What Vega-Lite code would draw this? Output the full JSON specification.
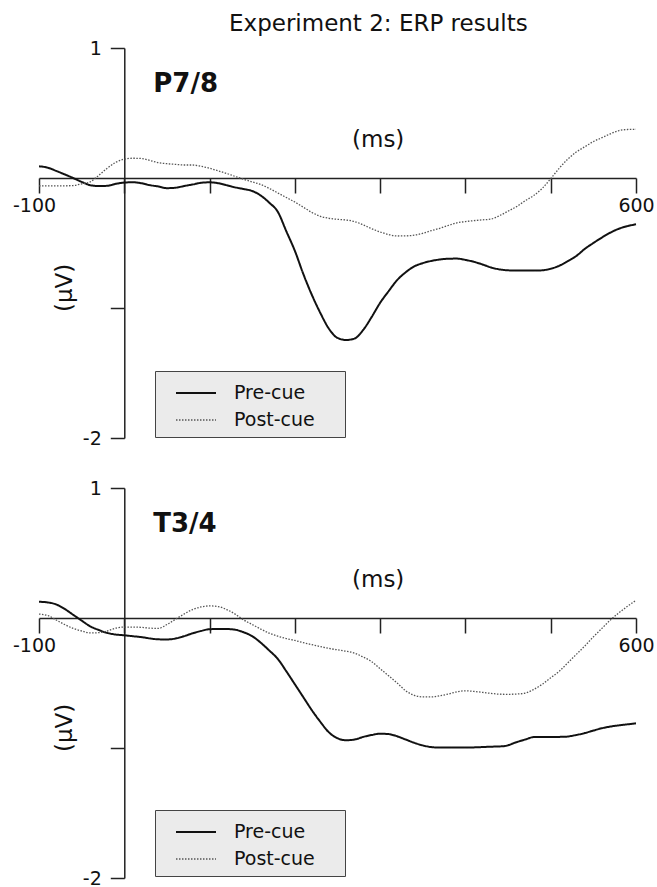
{
  "$schema": "https://vega.github.io/schema/vega-lite/v6.json",
  "padding": {"left": 12, "top": 12, "right": 0, "bottom": 0},
  "background": "white",
  "title": {"text": "Experiment 2: ERP results", "anchor": "start", "frame": "group", "dx": 190, "offset": -14.7, "baseline": "alphabetic", "font": "DejaVu Sans", "fontSize": 23, "fontWeight": "normal", "color": "#111"},
  "datasets": {
    "erp": [
      {"panel":"P7/8","cond":"Pre-cue","ms":-100,"uv":0.09},{"panel":"P7/8","cond":"Pre-cue","ms":-90,"uv":0.08},{"panel":"P7/8","cond":"Pre-cue","ms":-80,"uv":0.055},{"panel":"P7/8","cond":"Pre-cue","ms":-70,"uv":0.028},{"panel":"P7/8","cond":"Pre-cue","ms":-60,"uv":0.0},{"panel":"P7/8","cond":"Pre-cue","ms":-50,"uv":-0.03},{"panel":"P7/8","cond":"Pre-cue","ms":-40,"uv":-0.055},{"panel":"P7/8","cond":"Pre-cue","ms":-30,"uv":-0.062},{"panel":"P7/8","cond":"Pre-cue","ms":-20,"uv":-0.06},{"panel":"P7/8","cond":"Pre-cue","ms":-10,"uv":-0.045},
      {"panel":"P7/8","cond":"Pre-cue","ms":0,"uv":-0.035},{"panel":"P7/8","cond":"Pre-cue","ms":10,"uv":-0.033},{"panel":"P7/8","cond":"Pre-cue","ms":20,"uv":-0.04},{"panel":"P7/8","cond":"Pre-cue","ms":30,"uv":-0.055},{"panel":"P7/8","cond":"Pre-cue","ms":40,"uv":-0.065},{"panel":"P7/8","cond":"Pre-cue","ms":50,"uv":-0.078},{"panel":"P7/8","cond":"Pre-cue","ms":60,"uv":-0.075},{"panel":"P7/8","cond":"Pre-cue","ms":70,"uv":-0.062},{"panel":"P7/8","cond":"Pre-cue","ms":80,"uv":-0.05},{"panel":"P7/8","cond":"Pre-cue","ms":90,"uv":-0.037},
      {"panel":"P7/8","cond":"Pre-cue","ms":100,"uv":-0.033},{"panel":"P7/8","cond":"Pre-cue","ms":110,"uv":-0.04},{"panel":"P7/8","cond":"Pre-cue","ms":120,"uv":-0.055},{"panel":"P7/8","cond":"Pre-cue","ms":130,"uv":-0.072},{"panel":"P7/8","cond":"Pre-cue","ms":140,"uv":-0.085},{"panel":"P7/8","cond":"Pre-cue","ms":150,"uv":-0.1},{"panel":"P7/8","cond":"Pre-cue","ms":160,"uv":-0.135},{"panel":"P7/8","cond":"Pre-cue","ms":170,"uv":-0.19},{"panel":"P7/8","cond":"Pre-cue","ms":180,"uv":-0.26},{"panel":"P7/8","cond":"Pre-cue","ms":190,"uv":-0.41},
      {"panel":"P7/8","cond":"Pre-cue","ms":200,"uv":-0.56},{"panel":"P7/8","cond":"Pre-cue","ms":210,"uv":-0.74},{"panel":"P7/8","cond":"Pre-cue","ms":220,"uv":-0.9},{"panel":"P7/8","cond":"Pre-cue","ms":230,"uv":-1.04},{"panel":"P7/8","cond":"Pre-cue","ms":240,"uv":-1.16},{"panel":"P7/8","cond":"Pre-cue","ms":250,"uv":-1.23},{"panel":"P7/8","cond":"Pre-cue","ms":260,"uv":-1.246},{"panel":"P7/8","cond":"Pre-cue","ms":270,"uv":-1.235},{"panel":"P7/8","cond":"Pre-cue","ms":280,"uv":-1.17},{"panel":"P7/8","cond":"Pre-cue","ms":290,"uv":-1.07},
      {"panel":"P7/8","cond":"Pre-cue","ms":300,"uv":-0.96},{"panel":"P7/8","cond":"Pre-cue","ms":310,"uv":-0.87},{"panel":"P7/8","cond":"Pre-cue","ms":320,"uv":-0.785},{"panel":"P7/8","cond":"Pre-cue","ms":330,"uv":-0.725},{"panel":"P7/8","cond":"Pre-cue","ms":340,"uv":-0.68},{"panel":"P7/8","cond":"Pre-cue","ms":350,"uv":-0.655},{"panel":"P7/8","cond":"Pre-cue","ms":360,"uv":-0.638},{"panel":"P7/8","cond":"Pre-cue","ms":370,"uv":-0.627},{"panel":"P7/8","cond":"Pre-cue","ms":380,"uv":-0.621},{"panel":"P7/8","cond":"Pre-cue","ms":390,"uv":-0.62},
      {"panel":"P7/8","cond":"Pre-cue","ms":400,"uv":-0.63},{"panel":"P7/8","cond":"Pre-cue","ms":410,"uv":-0.645},{"panel":"P7/8","cond":"Pre-cue","ms":420,"uv":-0.665},{"panel":"P7/8","cond":"Pre-cue","ms":430,"uv":-0.688},{"panel":"P7/8","cond":"Pre-cue","ms":440,"uv":-0.703},{"panel":"P7/8","cond":"Pre-cue","ms":450,"uv":-0.71},{"panel":"P7/8","cond":"Pre-cue","ms":460,"uv":-0.712},{"panel":"P7/8","cond":"Pre-cue","ms":470,"uv":-0.712},{"panel":"P7/8","cond":"Pre-cue","ms":480,"uv":-0.712},{"panel":"P7/8","cond":"Pre-cue","ms":490,"uv":-0.71},
      {"panel":"P7/8","cond":"Pre-cue","ms":500,"uv":-0.698},{"panel":"P7/8","cond":"Pre-cue","ms":510,"uv":-0.675},{"panel":"P7/8","cond":"Pre-cue","ms":520,"uv":-0.64},{"panel":"P7/8","cond":"Pre-cue","ms":530,"uv":-0.6},{"panel":"P7/8","cond":"Pre-cue","ms":540,"uv":-0.545},{"panel":"P7/8","cond":"Pre-cue","ms":550,"uv":-0.5},{"panel":"P7/8","cond":"Pre-cue","ms":560,"uv":-0.458},{"panel":"P7/8","cond":"Pre-cue","ms":570,"uv":-0.42},{"panel":"P7/8","cond":"Pre-cue","ms":580,"uv":-0.39},{"panel":"P7/8","cond":"Pre-cue","ms":590,"uv":-0.37},{"panel":"P7/8","cond":"Pre-cue","ms":600,"uv":-0.356},

      {"panel":"P7/8","cond":"Post-cue","ms":-100,"uv":-0.06},{"panel":"P7/8","cond":"Post-cue","ms":-90,"uv":-0.06},{"panel":"P7/8","cond":"Post-cue","ms":-80,"uv":-0.06},{"panel":"P7/8","cond":"Post-cue","ms":-70,"uv":-0.06},{"panel":"P7/8","cond":"Post-cue","ms":-60,"uv":-0.058},{"panel":"P7/8","cond":"Post-cue","ms":-50,"uv":-0.045},{"panel":"P7/8","cond":"Post-cue","ms":-40,"uv":-0.03},{"panel":"P7/8","cond":"Post-cue","ms":-30,"uv":0.02},{"panel":"P7/8","cond":"Post-cue","ms":-20,"uv":0.075},{"panel":"P7/8","cond":"Post-cue","ms":-10,"uv":0.12},
      {"panel":"P7/8","cond":"Post-cue","ms":0,"uv":0.145},{"panel":"P7/8","cond":"Post-cue","ms":10,"uv":0.152},{"panel":"P7/8","cond":"Post-cue","ms":20,"uv":0.15},{"panel":"P7/8","cond":"Post-cue","ms":30,"uv":0.135},{"panel":"P7/8","cond":"Post-cue","ms":40,"uv":0.118},{"panel":"P7/8","cond":"Post-cue","ms":50,"uv":0.11},{"panel":"P7/8","cond":"Post-cue","ms":60,"uv":0.105},{"panel":"P7/8","cond":"Post-cue","ms":70,"uv":0.1},{"panel":"P7/8","cond":"Post-cue","ms":80,"uv":0.1},{"panel":"P7/8","cond":"Post-cue","ms":90,"uv":0.09},
      {"panel":"P7/8","cond":"Post-cue","ms":100,"uv":0.075},{"panel":"P7/8","cond":"Post-cue","ms":110,"uv":0.055},{"panel":"P7/8","cond":"Post-cue","ms":120,"uv":0.035},{"panel":"P7/8","cond":"Post-cue","ms":130,"uv":0.012},{"panel":"P7/8","cond":"Post-cue","ms":140,"uv":-0.01},{"panel":"P7/8","cond":"Post-cue","ms":150,"uv":-0.03},{"panel":"P7/8","cond":"Post-cue","ms":160,"uv":-0.05},{"panel":"P7/8","cond":"Post-cue","ms":170,"uv":-0.08},{"panel":"P7/8","cond":"Post-cue","ms":180,"uv":-0.115},{"panel":"P7/8","cond":"Post-cue","ms":190,"uv":-0.15},
      {"panel":"P7/8","cond":"Post-cue","ms":200,"uv":-0.185},{"panel":"P7/8","cond":"Post-cue","ms":210,"uv":-0.225},{"panel":"P7/8","cond":"Post-cue","ms":220,"uv":-0.265},{"panel":"P7/8","cond":"Post-cue","ms":230,"uv":-0.295},{"panel":"P7/8","cond":"Post-cue","ms":240,"uv":-0.31},{"panel":"P7/8","cond":"Post-cue","ms":250,"uv":-0.318},{"panel":"P7/8","cond":"Post-cue","ms":260,"uv":-0.323},{"panel":"P7/8","cond":"Post-cue","ms":270,"uv":-0.335},{"panel":"P7/8","cond":"Post-cue","ms":280,"uv":-0.36},{"panel":"P7/8","cond":"Post-cue","ms":290,"uv":-0.39},
      {"panel":"P7/8","cond":"Post-cue","ms":300,"uv":-0.415},{"panel":"P7/8","cond":"Post-cue","ms":310,"uv":-0.435},{"panel":"P7/8","cond":"Post-cue","ms":320,"uv":-0.446},{"panel":"P7/8","cond":"Post-cue","ms":330,"uv":-0.445},{"panel":"P7/8","cond":"Post-cue","ms":340,"uv":-0.44},{"panel":"P7/8","cond":"Post-cue","ms":350,"uv":-0.425},{"panel":"P7/8","cond":"Post-cue","ms":360,"uv":-0.405},{"panel":"P7/8","cond":"Post-cue","ms":370,"uv":-0.387},{"panel":"P7/8","cond":"Post-cue","ms":380,"uv":-0.365},{"panel":"P7/8","cond":"Post-cue","ms":390,"uv":-0.345},
      {"panel":"P7/8","cond":"Post-cue","ms":400,"uv":-0.335},{"panel":"P7/8","cond":"Post-cue","ms":410,"uv":-0.328},{"panel":"P7/8","cond":"Post-cue","ms":420,"uv":-0.322},{"panel":"P7/8","cond":"Post-cue","ms":430,"uv":-0.316},{"panel":"P7/8","cond":"Post-cue","ms":440,"uv":-0.29},{"panel":"P7/8","cond":"Post-cue","ms":450,"uv":-0.255},{"panel":"P7/8","cond":"Post-cue","ms":460,"uv":-0.22},{"panel":"P7/8","cond":"Post-cue","ms":470,"uv":-0.175},{"panel":"P7/8","cond":"Post-cue","ms":480,"uv":-0.135},{"panel":"P7/8","cond":"Post-cue","ms":490,"uv":-0.08},
      {"panel":"P7/8","cond":"Post-cue","ms":500,"uv":-0.005},{"panel":"P7/8","cond":"Post-cue","ms":510,"uv":0.075},{"panel":"P7/8","cond":"Post-cue","ms":520,"uv":0.145},{"panel":"P7/8","cond":"Post-cue","ms":530,"uv":0.2},{"panel":"P7/8","cond":"Post-cue","ms":540,"uv":0.24},{"panel":"P7/8","cond":"Post-cue","ms":550,"uv":0.28},{"panel":"P7/8","cond":"Post-cue","ms":560,"uv":0.31},{"panel":"P7/8","cond":"Post-cue","ms":570,"uv":0.34},{"panel":"P7/8","cond":"Post-cue","ms":580,"uv":0.365},{"panel":"P7/8","cond":"Post-cue","ms":590,"uv":0.373},{"panel":"P7/8","cond":"Post-cue","ms":600,"uv":0.375},

      {"panel":"T3/4","cond":"Pre-cue","ms":-100,"uv":0.125},{"panel":"T3/4","cond":"Pre-cue","ms":-90,"uv":0.12},{"panel":"T3/4","cond":"Pre-cue","ms":-80,"uv":0.105},{"panel":"T3/4","cond":"Pre-cue","ms":-70,"uv":0.07},{"panel":"T3/4","cond":"Pre-cue","ms":-60,"uv":0.025},{"panel":"T3/4","cond":"Pre-cue","ms":-50,"uv":-0.02},{"panel":"T3/4","cond":"Pre-cue","ms":-40,"uv":-0.064},{"panel":"T3/4","cond":"Pre-cue","ms":-30,"uv":-0.092},{"panel":"T3/4","cond":"Pre-cue","ms":-20,"uv":-0.115},{"panel":"T3/4","cond":"Pre-cue","ms":-10,"uv":-0.127},
      {"panel":"T3/4","cond":"Pre-cue","ms":0,"uv":-0.133},{"panel":"T3/4","cond":"Pre-cue","ms":10,"uv":-0.14},{"panel":"T3/4","cond":"Pre-cue","ms":20,"uv":-0.147},{"panel":"T3/4","cond":"Pre-cue","ms":30,"uv":-0.157},{"panel":"T3/4","cond":"Pre-cue","ms":40,"uv":-0.164},{"panel":"T3/4","cond":"Pre-cue","ms":50,"uv":-0.165},{"panel":"T3/4","cond":"Pre-cue","ms":60,"uv":-0.158},{"panel":"T3/4","cond":"Pre-cue","ms":70,"uv":-0.14},{"panel":"T3/4","cond":"Pre-cue","ms":80,"uv":-0.118},{"panel":"T3/4","cond":"Pre-cue","ms":90,"uv":-0.1},
      {"panel":"T3/4","cond":"Pre-cue","ms":100,"uv":-0.086},{"panel":"T3/4","cond":"Pre-cue","ms":110,"uv":-0.085},{"panel":"T3/4","cond":"Pre-cue","ms":120,"uv":-0.085},{"panel":"T3/4","cond":"Pre-cue","ms":130,"uv":-0.09},{"panel":"T3/4","cond":"Pre-cue","ms":140,"uv":-0.11},{"panel":"T3/4","cond":"Pre-cue","ms":150,"uv":-0.14},{"panel":"T3/4","cond":"Pre-cue","ms":160,"uv":-0.19},{"panel":"T3/4","cond":"Pre-cue","ms":170,"uv":-0.25},{"panel":"T3/4","cond":"Pre-cue","ms":180,"uv":-0.315},{"panel":"T3/4","cond":"Pre-cue","ms":190,"uv":-0.41},
      {"panel":"T3/4","cond":"Pre-cue","ms":200,"uv":-0.51},{"panel":"T3/4","cond":"Pre-cue","ms":210,"uv":-0.61},{"panel":"T3/4","cond":"Pre-cue","ms":220,"uv":-0.71},{"panel":"T3/4","cond":"Pre-cue","ms":230,"uv":-0.8},{"panel":"T3/4","cond":"Pre-cue","ms":240,"uv":-0.88},{"panel":"T3/4","cond":"Pre-cue","ms":250,"uv":-0.925},{"panel":"T3/4","cond":"Pre-cue","ms":260,"uv":-0.94},{"panel":"T3/4","cond":"Pre-cue","ms":270,"uv":-0.935},{"panel":"T3/4","cond":"Pre-cue","ms":280,"uv":-0.915},{"panel":"T3/4","cond":"Pre-cue","ms":290,"uv":-0.9},
      {"panel":"T3/4","cond":"Pre-cue","ms":300,"uv":-0.89},{"panel":"T3/4","cond":"Pre-cue","ms":310,"uv":-0.893},{"panel":"T3/4","cond":"Pre-cue","ms":320,"uv":-0.91},{"panel":"T3/4","cond":"Pre-cue","ms":330,"uv":-0.935},{"panel":"T3/4","cond":"Pre-cue","ms":340,"uv":-0.96},{"panel":"T3/4","cond":"Pre-cue","ms":350,"uv":-0.98},{"panel":"T3/4","cond":"Pre-cue","ms":360,"uv":-0.993},{"panel":"T3/4","cond":"Pre-cue","ms":370,"uv":-0.997},{"panel":"T3/4","cond":"Pre-cue","ms":385,"uv":-0.997},{"panel":"T3/4","cond":"Pre-cue","ms":400,"uv":-0.997},
      {"panel":"T3/4","cond":"Pre-cue","ms":415,"uv":-0.994},{"panel":"T3/4","cond":"Pre-cue","ms":430,"uv":-0.99},{"panel":"T3/4","cond":"Pre-cue","ms":445,"uv":-0.986},{"panel":"T3/4","cond":"Pre-cue","ms":460,"uv":-0.955},{"panel":"T3/4","cond":"Pre-cue","ms":470,"uv":-0.935},{"panel":"T3/4","cond":"Pre-cue","ms":480,"uv":-0.916},{"panel":"T3/4","cond":"Pre-cue","ms":500,"uv":-0.915},{"panel":"T3/4","cond":"Pre-cue","ms":515,"uv":-0.914},{"panel":"T3/4","cond":"Pre-cue","ms":530,"uv":-0.9},{"panel":"T3/4","cond":"Pre-cue","ms":540,"uv":-0.885},
      {"panel":"T3/4","cond":"Pre-cue","ms":550,"uv":-0.866},{"panel":"T3/4","cond":"Pre-cue","ms":560,"uv":-0.848},{"panel":"T3/4","cond":"Pre-cue","ms":570,"uv":-0.835},{"panel":"T3/4","cond":"Pre-cue","ms":580,"uv":-0.826},{"panel":"T3/4","cond":"Pre-cue","ms":590,"uv":-0.818},{"panel":"T3/4","cond":"Pre-cue","ms":600,"uv":-0.81},

      {"panel":"T3/4","cond":"Post-cue","ms":-100,"uv":0.03},{"panel":"T3/4","cond":"Post-cue","ms":-90,"uv":0.02},{"panel":"T3/4","cond":"Post-cue","ms":-80,"uv":-0.015},{"panel":"T3/4","cond":"Post-cue","ms":-70,"uv":-0.05},{"panel":"T3/4","cond":"Post-cue","ms":-60,"uv":-0.08},{"panel":"T3/4","cond":"Post-cue","ms":-50,"uv":-0.1},{"panel":"T3/4","cond":"Post-cue","ms":-40,"uv":-0.115},{"panel":"T3/4","cond":"Post-cue","ms":-30,"uv":-0.113},{"panel":"T3/4","cond":"Post-cue","ms":-20,"uv":-0.1},{"panel":"T3/4","cond":"Post-cue","ms":-10,"uv":-0.078},
      {"panel":"T3/4","cond":"Post-cue","ms":0,"uv":-0.07},{"panel":"T3/4","cond":"Post-cue","ms":10,"uv":-0.07},{"panel":"T3/4","cond":"Post-cue","ms":20,"uv":-0.072},{"panel":"T3/4","cond":"Post-cue","ms":30,"uv":-0.078},{"panel":"T3/4","cond":"Post-cue","ms":40,"uv":-0.08},{"panel":"T3/4","cond":"Post-cue","ms":50,"uv":-0.05},{"panel":"T3/4","cond":"Post-cue","ms":60,"uv":-0.01},{"panel":"T3/4","cond":"Post-cue","ms":70,"uv":0.03},{"panel":"T3/4","cond":"Post-cue","ms":80,"uv":0.065},{"panel":"T3/4","cond":"Post-cue","ms":90,"uv":0.085},
      {"panel":"T3/4","cond":"Post-cue","ms":100,"uv":0.093},{"panel":"T3/4","cond":"Post-cue","ms":110,"uv":0.088},{"panel":"T3/4","cond":"Post-cue","ms":120,"uv":0.065},{"panel":"T3/4","cond":"Post-cue","ms":130,"uv":0.03},{"panel":"T3/4","cond":"Post-cue","ms":140,"uv":-0.015},{"panel":"T3/4","cond":"Post-cue","ms":150,"uv":-0.05},{"panel":"T3/4","cond":"Post-cue","ms":160,"uv":-0.085},{"panel":"T3/4","cond":"Post-cue","ms":170,"uv":-0.117},{"panel":"T3/4","cond":"Post-cue","ms":180,"uv":-0.14},{"panel":"T3/4","cond":"Post-cue","ms":190,"uv":-0.158},
      {"panel":"T3/4","cond":"Post-cue","ms":200,"uv":-0.173},{"panel":"T3/4","cond":"Post-cue","ms":210,"uv":-0.19},{"panel":"T3/4","cond":"Post-cue","ms":220,"uv":-0.205},{"panel":"T3/4","cond":"Post-cue","ms":230,"uv":-0.22},{"panel":"T3/4","cond":"Post-cue","ms":240,"uv":-0.234},{"panel":"T3/4","cond":"Post-cue","ms":250,"uv":-0.245},{"panel":"T3/4","cond":"Post-cue","ms":260,"uv":-0.255},{"panel":"T3/4","cond":"Post-cue","ms":270,"uv":-0.27},{"panel":"T3/4","cond":"Post-cue","ms":280,"uv":-0.3},{"panel":"T3/4","cond":"Post-cue","ms":290,"uv":-0.335},
      {"panel":"T3/4","cond":"Post-cue","ms":300,"uv":-0.39},{"panel":"T3/4","cond":"Post-cue","ms":310,"uv":-0.445},{"panel":"T3/4","cond":"Post-cue","ms":320,"uv":-0.5},{"panel":"T3/4","cond":"Post-cue","ms":330,"uv":-0.56},{"panel":"T3/4","cond":"Post-cue","ms":340,"uv":-0.595},{"panel":"T3/4","cond":"Post-cue","ms":350,"uv":-0.607},{"panel":"T3/4","cond":"Post-cue","ms":360,"uv":-0.607},{"panel":"T3/4","cond":"Post-cue","ms":370,"uv":-0.598},{"panel":"T3/4","cond":"Post-cue","ms":380,"uv":-0.585},{"panel":"T3/4","cond":"Post-cue","ms":390,"uv":-0.568},
      {"panel":"T3/4","cond":"Post-cue","ms":400,"uv":-0.56},{"panel":"T3/4","cond":"Post-cue","ms":410,"uv":-0.565},{"panel":"T3/4","cond":"Post-cue","ms":420,"uv":-0.572},{"panel":"T3/4","cond":"Post-cue","ms":430,"uv":-0.58},{"panel":"T3/4","cond":"Post-cue","ms":440,"uv":-0.586},{"panel":"T3/4","cond":"Post-cue","ms":450,"uv":-0.587},{"panel":"T3/4","cond":"Post-cue","ms":460,"uv":-0.585},{"panel":"T3/4","cond":"Post-cue","ms":470,"uv":-0.578},{"panel":"T3/4","cond":"Post-cue","ms":480,"uv":-0.55},{"panel":"T3/4","cond":"Post-cue","ms":490,"uv":-0.51},
      {"panel":"T3/4","cond":"Post-cue","ms":500,"uv":-0.46},{"panel":"T3/4","cond":"Post-cue","ms":510,"uv":-0.41},{"panel":"T3/4","cond":"Post-cue","ms":520,"uv":-0.345},{"panel":"T3/4","cond":"Post-cue","ms":530,"uv":-0.28},{"panel":"T3/4","cond":"Post-cue","ms":540,"uv":-0.215},{"panel":"T3/4","cond":"Post-cue","ms":550,"uv":-0.145},{"panel":"T3/4","cond":"Post-cue","ms":560,"uv":-0.08},{"panel":"T3/4","cond":"Post-cue","ms":570,"uv":-0.015},{"panel":"T3/4","cond":"Post-cue","ms":580,"uv":0.04},{"panel":"T3/4","cond":"Post-cue","ms":590,"uv":0.09},{"panel":"T3/4","cond":"Post-cue","ms":600,"uv":0.136}
    ]
  },
  "spacing": 50,
  "bounds": "flush",
  "resolve": {
    "scale": {"strokeDash": "independent", "color": "independent", "strokeWidth": "independent"},
    "legend": {"strokeDash": "independent", "color": "independent", "strokeWidth": "independent"}
  },
  "vconcat": [
    {
      "width": 597,
      "height": 390,
      "layer": [
        {
          "data": {"name": "erp"},
          "transform": [{"filter": "datum.panel == 'P7/8'"}],
          "mark": {"type": "line", "interpolate": "monotone"},
          "encoding": {
            "x": {"field": "ms", "type": "quantitative", "scale": {"domain": [-100, 600], "nice": false, "zero": false},
                  "axis": {"title": null, "offset": -260, "values": [-100, 0, 100, 200, 300, 400, 500, 600], "labelExpr": "datum.value == -100 ? '-100' : (datum.value == 600 ? '600' : '')", "labelOffset": {"condition": {"test": "datum.value == -100", "value": -5}, "value": 0}, "tickSize": 15, "labelPadding": 3, "labelFlush": false, "labelOverlap": false, "grid": false}},
            "y": {"field": "uv", "type": "quantitative", "scale": {"domain": [-2, 1], "nice": false, "zero": false},
                  "axis": {"title": null, "offset": -85.29, "values": [1, -1, -2], "labelExpr": "datum.value == 1 ? '1' : (datum.value == -2 ? '-2' : '')", "tickSize": 14, "labelPadding": 9, "labelFlush": false, "labelOverlap": false, "grid": false}},
            "color": {"field": "cond", "type": "nominal", "scale": {"domain": ["Pre-cue", "Post-cue"], "range": ["#111111", "#555555"]},
                      "legend": {"title": null, "orient": "none", "legendX": 116, "legendY": 323, "fillColor": "#ebebeb", "strokeColor": "#444444", "padding": 7, "symbolType": "M-1.43,0H1.43M9.8,0", "symbolSize": 784, "symbolOffset": 19, "labelOffset": 23, "rowPadding": 2, "labelFont": "DejaVu Sans", "labelFontSize": 19, "labelColor": "#111111"}},
            "strokeDash": {"field": "cond", "type": "nominal", "scale": {"domain": ["Pre-cue", "Post-cue"], "range": [[1, 0], [1.5, 1.5]]},
                      "legend": {"title": null, "orient": "none", "legendX": 116, "legendY": 323, "fillColor": "#ebebeb", "strokeColor": "#444444", "padding": 7, "symbolType": "M-1.43,0H1.43M9.8,0", "symbolSize": 784, "symbolOffset": 19, "labelOffset": 23, "rowPadding": 2, "labelFont": "DejaVu Sans", "labelFontSize": 19, "labelColor": "#111111"}},
            "strokeWidth": {"field": "cond", "type": "nominal", "scale": {"domain": ["Pre-cue", "Post-cue"], "range": [2, 1.3]},
                      "legend": {"title": null, "orient": "none", "legendX": 116, "legendY": 323, "fillColor": "#ebebeb", "strokeColor": "#444444", "padding": 7, "symbolType": "M-1.43,0H1.43M9.8,0", "symbolSize": 784, "symbolOffset": 19, "labelOffset": 23, "rowPadding": 2, "labelFont": "DejaVu Sans", "labelFontSize": 19, "labelColor": "#111111"}}
          }
        },
        {
          "data": {"values": [{"label": "P7/8"}]},
          "mark": {"type": "text", "font": "DejaVu Sans", "fontWeight": "bold", "fontSize": 26, "align": "left", "baseline": "alphabetic", "color": "#111111"},
          "encoding": {"x": {"datum": 34, "type": "quantitative"}, "y": {"datum": 0.66, "type": "quantitative"}, "text": {"field": "label"}}
        },
        {
          "data": {"values": [{"label": "(ms)"}]},
          "mark": {"type": "text", "font": "DejaVu Sans", "fontSize": 23, "align": "left", "baseline": "alphabetic", "color": "#111111"},
          "encoding": {"x": {"datum": 267, "type": "quantitative"}, "y": {"datum": 0.24, "type": "quantitative"}, "text": {"field": "label"}}
        },
        {
          "data": {"values": [{"label": "(μV)"}]},
          "mark": {"type": "text", "font": "DejaVu Sans", "fontSize": 23, "align": "center", "baseline": "middle", "angle": 270, "color": "#111111"},
          "encoding": {"x": {"datum": -69, "type": "quantitative"}, "y": {"datum": -0.845, "type": "quantitative"}, "text": {"field": "label"}}
        }
      ]
    },
    {
      "width": 597,
      "height": 390,
      "layer": [
        {
          "data": {"name": "erp"},
          "transform": [{"filter": "datum.panel == 'T3/4'"}],
          "mark": {"type": "line", "interpolate": "monotone"},
          "encoding": {
            "x": {"field": "ms", "type": "quantitative", "scale": {"domain": [-100, 600], "nice": false, "zero": false},
                  "axis": {"title": null, "offset": -260, "values": [-100, 0, 100, 200, 300, 400, 500, 600], "labelExpr": "datum.value == -100 ? '-100' : (datum.value == 600 ? '600' : '')", "labelOffset": {"condition": {"test": "datum.value == -100", "value": -5}, "value": 0}, "tickSize": 15, "labelPadding": 3, "labelFlush": false, "labelOverlap": false, "grid": false}},
            "y": {"field": "uv", "type": "quantitative", "scale": {"domain": [-2, 1], "nice": false, "zero": false},
                  "axis": {"title": null, "offset": -85.29, "values": [1, -1, -2], "labelExpr": "datum.value == 1 ? '1' : (datum.value == -2 ? '-2' : '')", "tickSize": 14, "labelPadding": 9, "labelFlush": false, "labelOverlap": false, "grid": false}},
            "color": {"field": "cond", "type": "nominal", "scale": {"domain": ["Pre-cue", "Post-cue"], "range": ["#111111", "#555555"]},
                      "legend": {"title": null, "orient": "none", "legendX": 116, "legendY": 322, "fillColor": "#ebebeb", "strokeColor": "#444444", "padding": 7, "symbolType": "M-1.43,0H1.43M9.8,0", "symbolSize": 784, "symbolOffset": 19, "labelOffset": 23, "rowPadding": 2, "labelFont": "DejaVu Sans", "labelFontSize": 19, "labelColor": "#111111"}},
            "strokeDash": {"field": "cond", "type": "nominal", "scale": {"domain": ["Pre-cue", "Post-cue"], "range": [[1, 0], [1.5, 1.5]]},
                      "legend": {"title": null, "orient": "none", "legendX": 116, "legendY": 322, "fillColor": "#ebebeb", "strokeColor": "#444444", "padding": 7, "symbolType": "M-1.43,0H1.43M9.8,0", "symbolSize": 784, "symbolOffset": 19, "labelOffset": 23, "rowPadding": 2, "labelFont": "DejaVu Sans", "labelFontSize": 19, "labelColor": "#111111"}},
            "strokeWidth": {"field": "cond", "type": "nominal", "scale": {"domain": ["Pre-cue", "Post-cue"], "range": [2, 1.3]},
                      "legend": {"title": null, "orient": "none", "legendX": 116, "legendY": 322, "fillColor": "#ebebeb", "strokeColor": "#444444", "padding": 7, "symbolType": "M-1.43,0H1.43M9.8,0", "symbolSize": 784, "symbolOffset": 19, "labelOffset": 23, "rowPadding": 2, "labelFont": "DejaVu Sans", "labelFontSize": 19, "labelColor": "#111111"}}
          }
        },
        {
          "data": {"values": [{"label": "T3/4"}]},
          "mark": {"type": "text", "font": "DejaVu Sans", "fontWeight": "bold", "fontSize": 26, "align": "left", "baseline": "alphabetic", "color": "#111111"},
          "encoding": {"x": {"datum": 34, "type": "quantitative"}, "y": {"datum": 0.66, "type": "quantitative"}, "text": {"field": "label"}}
        },
        {
          "data": {"values": [{"label": "(ms)"}]},
          "mark": {"type": "text", "font": "DejaVu Sans", "fontSize": 23, "align": "left", "baseline": "alphabetic", "color": "#111111"},
          "encoding": {"x": {"datum": 267, "type": "quantitative"}, "y": {"datum": 0.24, "type": "quantitative"}, "text": {"field": "label"}}
        },
        {
          "data": {"values": [{"label": "(μV)"}]},
          "mark": {"type": "text", "font": "DejaVu Sans", "fontSize": 23, "align": "center", "baseline": "middle", "angle": 270, "color": "#111111"},
          "encoding": {"x": {"datum": -69, "type": "quantitative"}, "y": {"datum": -0.845, "type": "quantitative"}, "text": {"field": "label"}}
        }
      ]
    }
  ],
  "config": {
    "view": {"stroke": null},
    "font": "DejaVu Sans",
    "axis": {"domainColor": "#222222", "domainWidth": 1.5, "tickColor": "#222222", "tickWidth": 1.5, "labelFont": "DejaVu Sans", "labelFontSize": 19, "labelColor": "#111111", "grid": false}
  }
}
